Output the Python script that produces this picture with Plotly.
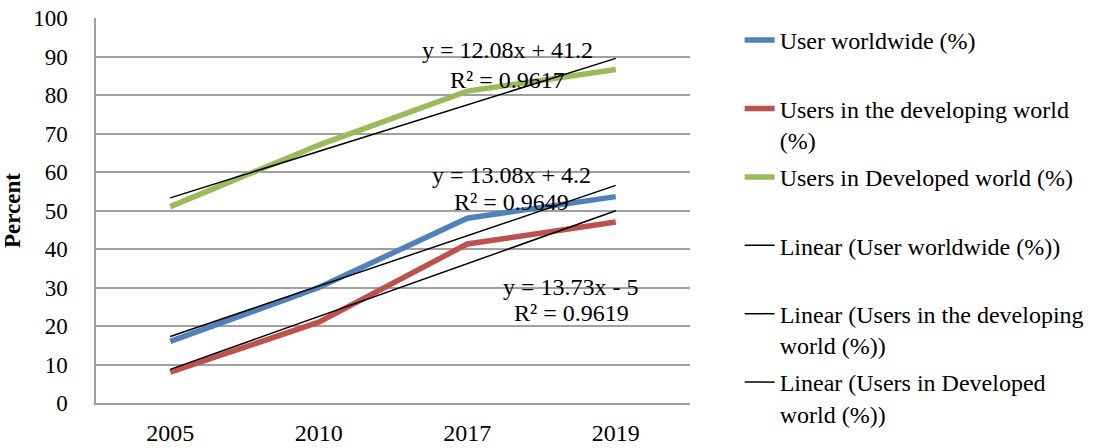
import numpy as np
import plotly.graph_objects as go

years = ["2005", "2010", "2017", "2019"]
world = [16, 30, 48, 53.6]
developing = [8, 21, 41.3, 47]
developed = [51, 67, 81, 86.6]

legend_labels = ["User worldwide (%)<br> ", "Users in the developing world<br>(%)", "Users in Developed world (%)<br> "]
trend_labels = ["Linear (User worldwide (%))<br> ", "Linear (Users in the developing<br>world (%))",
                "Linear (Users in Developed<br>world (%))"]
colors = ["#4F81BD", "#C0504D", "#9BBB59"]
eq_lines = [("y = 13.08x + 4.2", "R² = 0.9649"),
            ("y = 13.73x - 5", "R² = 0.9619"),
            ("y = 12.08x + 41.2", "R² = 0.9617")]
eq_pos = [(2.30, 59.2, 52.2), (2.70, 30.1, 23.4), (2.27, 91.7, 83.9)]

FONT = "Liberation Serif, Times New Roman, serif"
data = [world, developing, developed]

fig = go.Figure()
for i, (vals, lab, col) in enumerate(zip(data, legend_labels, colors)):
    fig.add_trace(go.Scatter(x=years, y=vals, mode="lines", name=lab, legendgroup=f"s{i}",
                             line=dict(color=col, width=5.5)))

xi = np.arange(1, len(years) + 1)
for i, (vals, lab) in enumerate(zip(data, trend_labels)):
    slope, icpt = np.polyfit(xi, vals, 1)
    fig.add_trace(go.Scatter(x=years, y=slope * xi + icpt, mode="lines", name=lab,
                             legendgroup=f"t{i}",
                             line=dict(color="black", width=1.5)))

for (l1, l2), (ax, ay1, ay2) in zip(eq_lines, eq_pos):
    for txt, ay in ((l1, ay1), (l2, ay2)):
        fig.add_annotation(x=ax, y=ay, xref="x", yref="y", text=txt, showarrow=False,
                           align="center", font=dict(family=FONT, size=24, color="black"))

fig.update_layout(
    width=1096, height=448,
    margin=dict(l=96, r=406, t=18, b=45, autoexpand=False),
    paper_bgcolor="white", plot_bgcolor="white",
    font=dict(family=FONT, size=24, color="black"),
    showlegend=True,
    legend=dict(x=1.0836, xanchor="left", y=1.0, yanchor="top", valign="top",
                traceorder="grouped",
                font=dict(family=FONT, size=24, color="black"),
                bgcolor="rgba(0,0,0,0)", tracegroupgap=3, maxheight=446),
)
fig.update_xaxes(type="category", range=[-0.5, 3.5], showgrid=False,
                 showline=True, linecolor="#A0A0A0", linewidth=1.5,
                 ticks="", ticklabelstandoff=7, tickfont=dict(size=24), automargin=False)
fig.update_yaxes(range=[0, 100], dtick=10, showgrid=True, gridcolor="#A0A0A0", gridwidth=1.5,
                 showline=True, linecolor="#A0A0A0", linewidth=1.5, zeroline=False,
                 ticks="", ticklabelstandoff=22, tickfont=dict(size=23), automargin=False,
                 title=dict(text="<b>Percent</b>", font=dict(size=23), standoff=16))

fig.write_html("out.html")
